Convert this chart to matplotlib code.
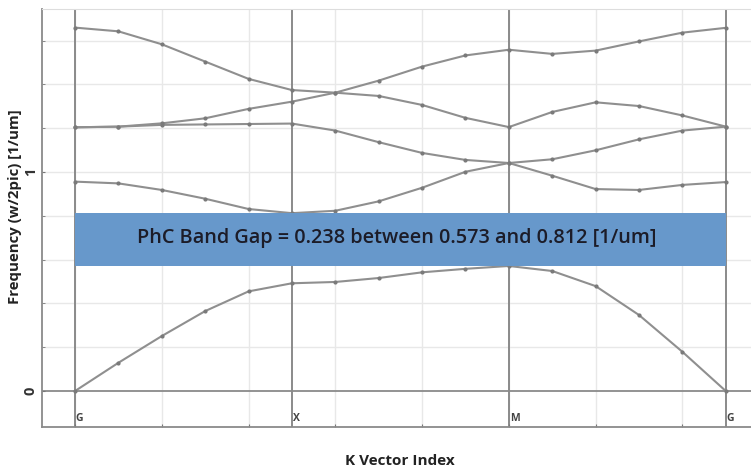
import matplotlib
matplotlib.use("Agg")
import matplotlib.pyplot as plt

# k-point index along G-X-M-G path (16 samples)
k_index = list(range(16))
sym_pos = [0, 5, 10, 15]
sym_labels = ["G", "X", "M", "G"]

# band frequencies [1/um]
band1 = [0.0, 0.129, 0.251, 0.365, 0.455, 0.492, 0.498, 0.516, 0.542, 0.558,
         0.571, 0.548, 0.479, 0.347, 0.179, 0.0]
band2 = [0.956, 0.948, 0.918, 0.878, 0.831, 0.812, 0.823, 0.866, 0.928, 1.001,
         1.041, 0.983, 0.922, 0.918, 0.941, 0.954]
band3 = [1.204, 1.207, 1.215, 1.217, 1.219, 1.221, 1.189, 1.136, 1.087, 1.055,
         1.041, 1.058, 1.099, 1.149, 1.189, 1.207]
band4 = [1.204, 1.207, 1.222, 1.245, 1.288, 1.321, 1.362, 1.347, 1.306, 1.247,
         1.205, 1.274, 1.318, 1.301, 1.258, 1.207]
band5 = [1.659, 1.642, 1.583, 1.504, 1.425, 1.374, 1.362, 1.417, 1.481, 1.532,
         1.558, 1.539, 1.554, 1.596, 1.636, 1.658]
bands = [band1, band2, band3, band4, band5]

gap_lo = 0.573
gap_hi = 0.812
gap_text = "PhC Band Gap = 0.238 between 0.573 and 0.812 [1/um]"

fig = plt.figure(figsize=(7.51, 4.68), dpi=100)
ax = fig.add_axes([0.0559, 0.0876, 0.9441, 0.8932])
ax.set_xlim(-0.76, 15.58)
ax.set_ylim(-0.164, 1.744)

# light grid
for x in range(0, 16, 2):
    ax.axvline(x, color="#e8e8e8", lw=1.0, zorder=0)
for y in [0.2, 0.4, 0.6, 0.8, 1.0, 1.2, 1.4, 1.6]:
    ax.axhline(y, color="#e8e8e8", lw=1.0, zorder=0)
ax.axhline(0, color="#8a8a8a", lw=1.3, zorder=1)
for x in sym_pos:
    ax.axvline(x, color="#8a8a8a", lw=1.4, zorder=1)

for b in bands:
    ax.plot(k_index, b, color="#8f8f8f", lw=1.5, marker="o", ms=2.0,
            mfc="#7a7a7a", mec="#7a7a7a", zorder=2)

ax.fill_between([sym_pos[0], sym_pos[-1]], gap_lo, gap_hi,
                color="#6798cb", lw=0, zorder=3)
ax.text(7.42, (gap_lo + gap_hi) / 2 + 0.005, gap_text, ha="center", va="center",
        fontsize=14.3, family="Open Sans", weight="semibold", color="#1c1c28",
        zorder=4)

for x, lab in zip(sym_pos, sym_labels):
    ax.text(x + 0.02, -0.123, lab, ha="left", va="center", fontsize=7.5,
            family="Open Sans", weight="bold", color="#444444")

ax.set_xticks(range(0, 16, 2))
ax.set_xticklabels([])
ax.set_yticks([0, 1])
ax.set_yticklabels(["0", "1"], rotation=90, va="center", fontsize=10.5,
                   family="Open Sans", weight="bold", color="#333333")
ax.set_yticks([0.2, 0.4, 0.6, 0.8, 1.2, 1.4, 1.6], minor=True)
ax.tick_params(axis="y", which="both", direction="in", length=2, color="#777777", pad=3)
ax.tick_params(axis="x", direction="in", length=2, color="#777777")

ax.spines["right"].set_visible(False)
ax.spines["top"].set_color("#dddddd")
ax.spines["left"].set_color("#8a8a8a")
ax.spines["bottom"].set_color("#8a8a8a")
ax.spines["left"].set_linewidth(1.3)
ax.spines["bottom"].set_linewidth(1.3)

fig.text(0.020, 0.558, "Frequency (w/2pic) [1/um]", rotation=90, ha="center",
         va="center", fontsize=10.8, family="Open Sans", weight="bold", color="#222222")
fig.text(0.533, 0.016, "K Vector Index", ha="center", va="center", fontsize=11,
         family="Open Sans", weight="bold", color="#222222")

fig.savefig("out.png", dpi=100)
